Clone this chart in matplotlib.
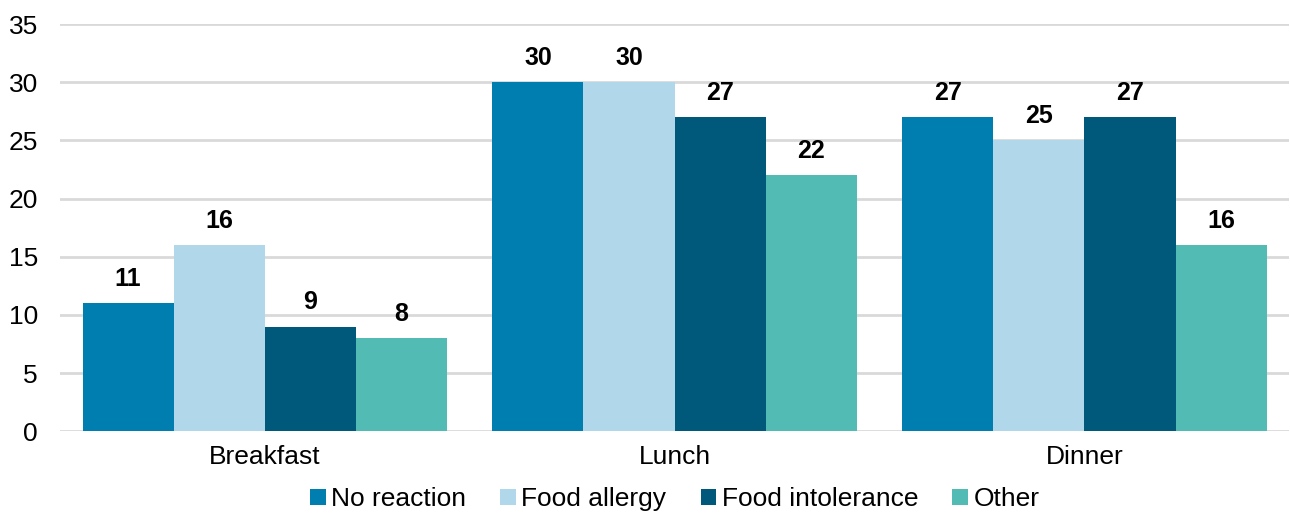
import numpy as np
import matplotlib.pyplot as plt

plt.rcParams["font.family"] = ["Liberation Sans", "DejaVu Sans"]

# Données
meals = ["Breakfast", "Lunch", "Dinner"]
series_names = ["No reaction", "Food allergy", "Food intolerance", "Other"]
no_reaction = [11, 30, 27]
food_allergy = [16, 30, 25]
food_intolerance = [9, 27, 27]
other = [8, 22, 16]
yticks = [0, 5, 10, 15, 20, 25, 30, 35]

colors = ["#007EB0", "#B1D7EB", "#00587A", "#52BBB4"]
series = [no_reaction, food_allergy, food_intolerance, other]

fig = plt.figure(figsize=(12.9, 5.14), dpi=100)
ax = fig.add_axes([0.0465, 0.161, 0.953, 0.792])

x = np.arange(len(meals))
bar_w = 0.2225
offsets = (np.arange(len(series)) - 1.5) * bar_w

for vals, name, col, off in zip(series, series_names, colors, offsets):
    bars = ax.bar(x + off, vals, width=bar_w, color=col, label=name, zorder=3)
    for b, v in zip(bars, vals):
        ax.annotate(f"{v}", (b.get_x() + b.get_width() / 2, v),
                    xytext=(0, 9), textcoords="offset points",
                    ha="center", va="bottom", fontsize=18, fontweight="bold")

ax.set_xlim(-0.5, 2.5)
ax.set_ylim(0, 35)
ax.set_yticks(yticks)
ax.set_xticks(x)
ax.set_xticklabels(meals)
ax.tick_params(axis="both", length=0, labelsize=19, colors="black")
ax.tick_params(axis="y", pad=16)
ax.tick_params(axis="x", pad=10)
ax.grid(axis="y", color="#D9D9D9", linewidth=2, zorder=0)
for s in ax.spines.values():
    s.set_visible(False)

ax.legend(loc="upper center", bbox_to_anchor=(0.5, -0.112), ncol=4,
          frameon=False, fontsize=19, handlelength=0.6, handleheight=0.6,
          handletextpad=0.2, columnspacing=1.3, borderaxespad=0)

fig.savefig("out.png", dpi=100)
